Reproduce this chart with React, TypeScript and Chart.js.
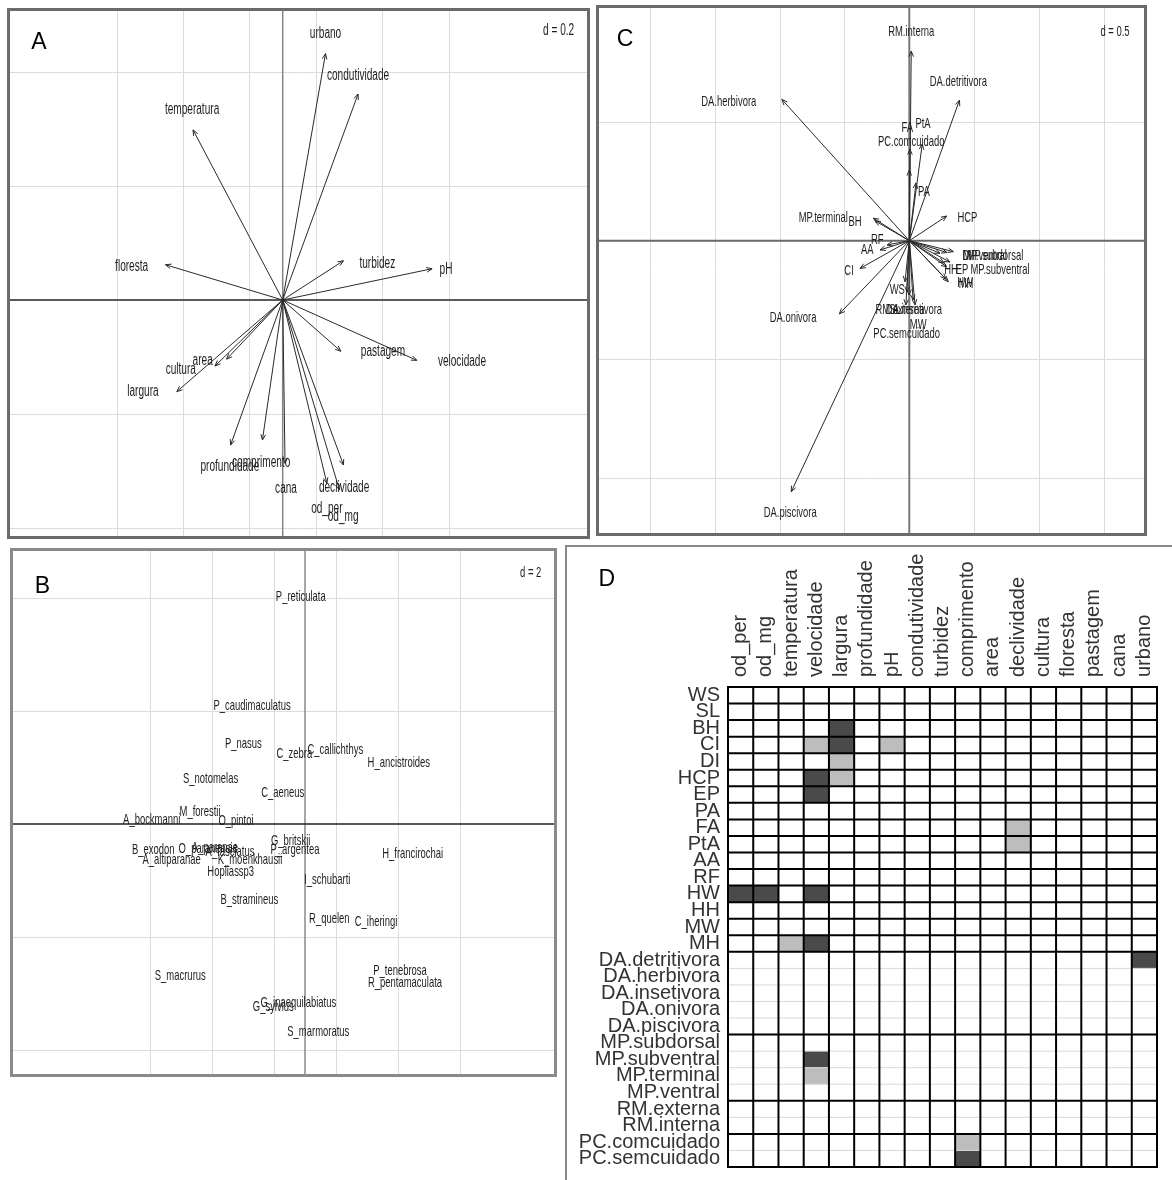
import React, { useEffect, useRef } from "react";
import { Chart, registerables } from "chart.js";

Chart.register(...registerables);

const FONT = '"Liberation Sans", Arial, sans-serif';

// ---------------- Panel A (environmental variables, d = 0.2) ----------------
const A_names = ["urbano", "condutividade", "temperatura", "floresta", "turbidez", "pH", "velocidade", "pastagem", "declividade", "od_mg", "od_per", "cana", "comprimento", "profundidade", "largura", "cultura", "area"];
const A_tipX = [0.129, 0.227, -0.270, -0.353, 0.183, 0.450, 0.404, 0.175, 0.183, 0.171, 0.133, 0.007, -0.061, -0.157, -0.319, -0.204, -0.169];
const A_tipY = [0.433, 0.362, 0.299, 0.062, 0.069, 0.055, -0.106, -0.090, -0.290, -0.334, -0.322, -0.287, -0.246, -0.255, -0.161, -0.116, -0.104];
const A_labX = [0.129, 0.227, -0.273, -0.455, 0.285, 0.492, 0.540, 0.302, 0.185, 0.182, 0.133, 0.010, -0.065, -0.159, -0.421, -0.307, -0.241];
const A_labY = [0.468, 0.395, 0.334, 0.058, 0.064, 0.054, -0.109, -0.091, -0.330, -0.381, -0.366, -0.331, -0.286, -0.293, -0.161, -0.122, -0.106];
const A_gridX = [-0.5, -0.3, -0.1, 0.1, 0.3, 0.5];
const A_gridY = [-0.4, -0.2, 0.2, 0.4];

// ---------------- Panel B (species scores, d = 2) ----------------
const B_names = ["P_reticulata", "P_caudimaculatus", "P_nasus", "C_zebra", "C_callichthys", "H_ancistroides", "S_notomelas", "C_aeneus", "M_forestii", "O_pintoi", "A_bockmanni", "B_exodon", "O_paranensis", "A_paranae", "A_fasciatus", "A_altiparanae", "K_moenkhausii", "Hopliassp3", "G_britskii", "P_argentea", "H_francirochai", "I_schubarti", "B_stramineus", "R_quelen", "C_iheringi", "P_tenebrosa", "R_pentamaculata", "S_macrurus", "G_inaequilabiatus", "G_sylvius", "S_marmoratus"];
const B_x = [-0.136, -1.715, -1.993, -0.346, 0.981, 3.036, -3.055, -0.722, -3.398, -2.233, -4.961, -4.909, -3.139, -2.913, -2.427, -4.314, -1.780, -2.404, -0.463, -0.324, 3.485, 0.722, -1.803, 0.786, 2.298, 3.074, 3.236, -4.036, -0.217, -1.026, 0.430];
const B_y = [4.027, 2.097, 1.411, 1.241, 1.320, 1.085, 0.807, 0.554, 0.218, 0.058, 0.071, -0.460, -0.448, -0.425, -0.490, -0.637, -0.637, -0.844, -0.296, -0.460, -0.531, -0.991, -1.345, -1.687, -1.729, -2.596, -2.820, -2.694, -3.173, -3.234, -3.676];
const B_gridX = [-5, -3, -1, 1, 3, 5];
const B_gridY = [-4, -2, 2, 4];

// ---------------- Panel C (traits, d = 0.5) ----------------
const C_names = ["RM.interna", "DA.detritivora", "DA.herbivora", "FA", "PtA", "PC.comcuidado", "PA", "HCP", "MP.terminal", "BH", "RF", "AA", "CI", "DA.onivora", "DA.piscivora", "WS", "SL", "RM.externa", "DA.insetivora", "MW", "PC.semcuidado", "MP.subdorsal", "MP.ventral", "DI", "HH", "EP", "MP.subventral", "HW", "MH"];
const C_tipX = [0.015, 0.387, -0.983, 0.005, 0.100, 0.000, 0.052, 0.289, -0.278, -0.265, -0.172, -0.226, -0.380, -0.540, -0.911, -0.033, -0.018, -0.002, 0.044, 0.029, -0.026, 0.340, 0.291, 0.237, 0.268, 0.289, 0.314, 0.301, 0.283];
const C_tipY = [0.800, 0.593, 0.596, 0.387, 0.408, 0.298, 0.244, 0.104, 0.095, 0.084, -0.018, -0.039, -0.117, -0.309, -1.059, -0.173, -0.217, -0.229, -0.271, -0.250, -0.271, -0.046, -0.050, -0.053, -0.094, -0.110, -0.090, -0.173, -0.162];
const C_labX = [0.015, 0.378, -1.393, -0.015, 0.106, 0.015, 0.113, 0.448, -0.664, -0.419, -0.247, -0.324, -0.465, -0.897, -0.919, -0.093, -0.110, -0.072, 0.036, 0.069, -0.020, 0.661, 0.584, 0.445, 0.322, 0.407, 0.700, 0.430, 0.438];
const C_labY = [0.881, 0.670, 0.586, 0.475, 0.492, 0.419, 0.207, 0.095, 0.095, 0.080, 0.003, -0.039, -0.127, -0.325, -1.148, -0.208, -0.292, -0.292, -0.292, -0.356, -0.391, -0.065, -0.065, -0.065, -0.124, -0.124, -0.124, -0.180, -0.183];
const C_gridX = [-2, -1.5, -1, -0.5, 0.5, 1, 1.5];
const C_gridY = [-1, -0.5, 0.5];

// ---------------- Panel D (fourth-corner) ----------------
const D_cols = ["od_per", "od_mg", "temperatura", "velocidade", "largura", "profundidade", "pH", "condutividade", "turbidez", "comprimento", "area", "declividade", "cultura", "floresta", "pastagem", "cana", "urbano"];
const D_rows = ["WS", "SL", "BH", "CI", "DI", "HCP", "EP", "PA", "FA", "PtA", "AA", "RF", "HW", "HH", "MW", "MH", "DA.detritivora", "DA.herbivora", "DA.insetivora", "DA.onivora", "DA.piscivora", "MP.subdorsal", "MP.subventral", "MP.terminal", "MP.ventral", "RM.externa", "RM.interna", "PC.comcuidado", "PC.semcuidado"];
const D_cellRow = ["BH", "CI", "CI", "CI", "DI", "HCP", "HCP", "EP", "FA", "PtA", "HW", "HW", "HW", "MH", "MH", "DA.detritivora", "MP.subventral", "MP.terminal", "PC.comcuidado", "PC.semcuidado"];
const D_cellCol = ["largura", "velocidade", "largura", "pH", "largura", "velocidade", "largura", "velocidade", "declividade", "declividade", "od_per", "od_mg", "velocidade", "temperatura", "velocidade", "urbano", "velocidade", "velocidade", "comprimento", "comprimento"];
const D_cellLevel = [2, 1, 2, 1, 1, 2, 1, 2, 1, 1, 2, 2, 2, 1, 2, 2, 2, 1, 1, 2];

type Biplot = {
  key: string;
  names: string[];
  tipX: number[] | null;
  tipY: number[] | null;
  labX: number[];
  labY: number[];
  gridX: number[];
  gridY: number[];
  xMin: number; xMax: number; yMin: number; yMax: number;
  letter: string; letterPos: [number, number];
  dText: string; dPos: [number, number];
  fontSize: number; squeeze: number;
  frameColor: string;
  hAxis: [string, number];
  vAxis: [string, number];
};

const PANEL_A: Biplot = {
  key: "A", names: A_names, tipX: A_tipX, tipY: A_tipY, labX: A_labX, labY: A_labY,
  gridX: A_gridX, gridY: A_gridY,
  xMin: -0.8304, xMax: 0.9256, yMin: -0.42, yMax: 0.5132,
  letter: "A", letterPos: [32, 35], dText: "d = 0.2", dPos: [551.6, 22.8],
  fontSize: 16, squeeze: 0.63, frameColor: "#6b6b6b",
  hAxis: ["#5a5a5a", 2], vAxis: ["#858585", 1.5],
};
const PANEL_C: Biplot = {
  key: "C", names: C_names, tipX: C_tipX, tipY: C_tipY, labX: C_labX, labY: C_labY,
  gridX: C_gridX, gridY: C_gridY,
  xMin: -2.4174, xMax: 1.8341, yMin: -1.246, yMax: 0.9945,
  letter: "C", letterPos: [29, 35], dText: "d = 0.5", dPos: [519, 26.7],
  fontSize: 15, squeeze: 0.63, frameColor: "#6b6b6b",
  hAxis: ["#6a6a6a", 2], vAxis: ["#7a7a7a", 2],
};
const PANEL_B: Biplot = {
  key: "B", names: B_names, tipX: null, tipY: null, labX: B_x, labY: B_y,
  gridX: B_gridX, gridY: B_gridY,
  xMin: -9.5468, xMax: 8.1552, yMin: -4.4779, yMax: 4.885,
  letter: "B", letterPos: [32.4, 38.3], dText: "d = 2", dPos: [520.7, 25.3],
  fontSize: 15, squeeze: 0.63, frameColor: "#8a8a8a",
  hAxis: ["#222222", 1.5], vAxis: ["#8a8a8a", 1.5],
};

function squeezedText(ctx: CanvasRenderingContext2D, s: string, x: number, y: number, size: number, sq: number) {
  ctx.save();
  ctx.translate(x, y);
  ctx.scale(sq, 1);
  ctx.font = `${size}px ${FONT}`;
  ctx.textAlign = "center";
  ctx.textBaseline = "middle";
  ctx.fillText(s, 0, 0);
  ctx.restore();
}

function drawArrow(ctx: CanvasRenderingContext2D, x0: number, y0: number, x1: number, y1: number) {
  const head = 6;
  const a = Math.PI / 8;
  const ang = Math.atan2(y1 - y0, x1 - x0);
  ctx.beginPath();
  ctx.moveTo(x0, y0);
  ctx.lineTo(x1, y1);
  ctx.stroke();
  ctx.beginPath();
  ctx.moveTo(x1 - head * Math.cos(ang - a), y1 - head * Math.sin(ang - a));
  ctx.lineTo(x1, y1);
  ctx.lineTo(x1 - head * Math.cos(ang + a), y1 - head * Math.sin(ang + a));
  ctx.stroke();
}

function BiplotPanel({ o, left, top, width, height }: { o: Biplot; left: number; top: number; width: number; height: number }) {
  const ref = useRef<HTMLCanvasElement>(null);
  useEffect(() => {
    const canvas = ref.current;
    if (!canvas) return;
    const tips = o.tipX ? o.tipX.map((x, i) => ({ x, y: (o.tipY as number[])[i] })) : [];
    const labs = o.labX.map((x, i) => ({ x, y: o.labY[i] }));
    const plugin = {
      id: "biplot" + o.key,
      beforeDraw(chart: any) {
        const c = chart.ctx;
        c.save();
        c.fillStyle = "#ffffff";
        c.fillRect(0, 0, chart.width, chart.height);
        c.restore();
      },
      afterDatasetsDraw(chart: any) {
        const c: CanvasRenderingContext2D = chart.ctx;
        const { left: L, right: R, top: T, bottom: B } = chart.chartArea;
        const xs = chart.scales.x;
        const ys = chart.scales.y;
        c.save();
        // grid
        c.strokeStyle = "#dcdcdc";
        c.lineWidth = 1;
        o.gridX.forEach((g) => {
          const p = Math.round(xs.getPixelForValue(g)) + 0.5;
          c.beginPath(); c.moveTo(p, T); c.lineTo(p, B); c.stroke();
        });
        o.gridY.forEach((g) => {
          const p = Math.round(ys.getPixelForValue(g)) + 0.5;
          c.beginPath(); c.moveTo(L, p); c.lineTo(R, p); c.stroke();
        });
        // axes through the origin
        const x0 = xs.getPixelForValue(0);
        const y0 = ys.getPixelForValue(0);
        c.strokeStyle = o.vAxis[0]; c.lineWidth = o.vAxis[1];
        c.beginPath(); c.moveTo(x0, T); c.lineTo(x0, B); c.stroke();
        c.strokeStyle = o.hAxis[0]; c.lineWidth = o.hAxis[1];
        c.beginPath(); c.moveTo(L, y0); c.lineTo(R, y0); c.stroke();
        // arrows
        const tipData = chart.data.datasets[0].data as { x: number; y: number }[];
        c.strokeStyle = "#2a2a2a";
        c.lineWidth = 1;
        tipData.forEach((p) => {
          drawArrow(c, x0, y0, xs.getPixelForValue(p.x), ys.getPixelForValue(p.y));
        });
        // labels
        const labData = chart.data.datasets[1].data as { x: number; y: number }[];
        c.fillStyle = "#1e1e1e";
        labData.forEach((p, i) => {
          squeezedText(c, o.names[i], xs.getPixelForValue(p.x), ys.getPixelForValue(p.y), o.fontSize, o.squeeze);
        });
        // d = value
        squeezedText(c, o.dText, L + o.dPos[0], T + o.dPos[1], o.fontSize, o.squeeze);
        // frame
        c.strokeStyle = o.frameColor;
        c.lineWidth = 3;
        c.strokeRect(L + 1.5, T + 1.5, R - L - 3, B - T - 3);
        // panel letter
        c.fillStyle = "#000000";
        c.font = `23px ${FONT}`;
        c.textAlign = "center";
        c.textBaseline = "middle";
        c.fillText(o.letter, L + o.letterPos[0], T + o.letterPos[1]);
        c.restore();
      },
    };
    const chart = new Chart(canvas, {
      type: "scatter",
      data: {
        datasets: [
          { label: "arrows", data: tips, pointRadius: 0, showLine: false },
          { label: "labels", data: labs, pointRadius: 0, showLine: false },
        ],
      },
      options: {
        animation: false,
        responsive: false,
        maintainAspectRatio: false,
        events: [],
        layout: { padding: 0 },
        plugins: { legend: { display: false }, tooltip: { enabled: false } },
        scales: {
          x: { type: "linear", display: false, min: o.xMin, max: o.xMax },
          y: { type: "linear", display: false, min: o.yMin, max: o.yMax },
        },
      },
      plugins: [plugin],
    } as any);
    return () => chart.destroy();
  }, [o]);
  return (
    <canvas
      ref={ref}
      width={width}
      height={height}
      style={{ position: "absolute", left, top, width, height }}
    />
  );
}

function groupOf(name: string) {
  const i = name.indexOf(".");
  return i >= 0 ? name.slice(0, i) : name;
}

function HeatPanel({ left, top, width, height }: { left: number; top: number; width: number; height: number }) {
  const ref = useRef<HTMLCanvasElement>(null);
  useEffect(() => {
    const canvas = ref.current;
    if (!canvas) return;
    const cells = D_cellCol.map((c, i) => ({ x: c, y: D_cellRow[i], level: D_cellLevel[i] }));
    const plugin = {
      id: "fourthcorner",
      beforeDraw(chart: any) {
        const c = chart.ctx;
        c.save();
        c.fillStyle = "#ffffff";
        c.fillRect(0, 0, chart.width, chart.height);
        c.restore();
      },
      beforeDatasetsDraw(chart: any) {
        const c: CanvasRenderingContext2D = chart.ctx;
        const xs = chart.scales.x;
        const ys = chart.scales.y;
        const cw = Math.abs(xs.getPixelForValue(1) - xs.getPixelForValue(0));
        const rh = Math.abs(ys.getPixelForValue(1) - ys.getPixelForValue(0));
        const colEdge = (i: number) => xs.getPixelForValue(i) - cw / 2;
        const rowTop = (i: number) => ys.getPixelForValue(i) - rh / 2;
        const gl = colEdge(0);
        const gr = colEdge(0) + D_cols.length * cw;
        const rowTops = D_rows.map((_, i) => rowTop(i));
        const gt = Math.min(...rowTops);
        const gb = Math.max(...rowTops) + rh;
        c.save();
        // significant cells
        const data = chart.data.datasets[0].data as { x: string; y: string; level: number }[];
        data.forEach((d) => {
          const ci = D_cols.indexOf(d.x);
          const ri = D_rows.indexOf(d.y);
          c.fillStyle = d.level === 2 ? "#4a4a4a" : "#bdbdbd";
          c.fillRect(colEdge(ci), rowTop(ri), cw, rh);
        });
        // horizontal lines
        for (let i = 0; i <= D_rows.length; i++) {
          let yb: number;
          if (i < D_rows.length) yb = rowTop(i);
          else yb = rowTop(D_rows.length - 1) + rh;
          const prev = i > 0 ? D_rows[i - 1] : null;
          const cur = i < D_rows.length ? D_rows[i] : null;
          const sameGroup = prev && cur && prev.includes(".") && cur.includes(".") && groupOf(prev) === groupOf(cur);
          if (sameGroup) {
            c.strokeStyle = "#d8d8d8";
            c.lineWidth = 1;
          } else {
            c.strokeStyle = "#000000";
            c.lineWidth = 2;
          }
          c.beginPath(); c.moveTo(gl - 1, yb); c.lineTo(gr + 1, yb); c.stroke();
        }
        // vertical lines
        c.strokeStyle = "#000000";
        c.lineWidth = 2;
        for (let j = 0; j <= D_cols.length; j++) {
          const xb = gl + j * cw;
          c.beginPath(); c.moveTo(xb, gt - 1); c.lineTo(xb, gb + 1); c.stroke();
        }
        c.restore();
      },
      afterDraw(chart: any) {
        const c: CanvasRenderingContext2D = chart.ctx;
        c.save();
        c.fillStyle = "#8a8a8a";
        c.fillRect(0, 0, 2, chart.height);
        c.fillRect(0, 0, chart.width, 2);
        c.fillStyle = "#000000";
        c.font = `23px ${FONT}`;
        c.textAlign = "center";
        c.textBaseline = "middle";
        c.fillText("D", 41.7, 34.3);
        c.restore();
      },
    };
    const chart = new Chart(canvas, {
      type: "scatter",
      data: {
        labels: D_cols,
        datasets: [{ label: "cells", data: cells, pointRadius: 0, showLine: false }],
      },
      options: {
        animation: false,
        responsive: false,
        maintainAspectRatio: false,
        events: [],
        layout: { padding: { left: 0, top: 0, right: 15, bottom: 13 } },
        plugins: { legend: { display: false }, tooltip: { enabled: false } },
        scales: {
          x: {
            type: "category",
            labels: D_cols,
            position: "top",
            offset: true,
            grid: { display: false, drawTicks: false },
            border: { display: false },
            ticks: {
              autoSkip: false,
              minRotation: 90,
              maxRotation: 90,
              padding: 10,
              labelOffset: 24,
              color: "#333333",
              font: { family: FONT, size: 20 },
            },
            afterFit: (s: any) => {
              s.height = 142;
              s.paddingLeft = 0;
              s.paddingRight = 0;
            },
          },
          y: {
            type: "category",
            labels: D_rows,
            position: "left",
            offset: true,
            grid: { display: false, drawTicks: false },
            border: { display: false },
            ticks: {
              autoSkip: false,
              padding: 8,
              color: "#333333",
              font: { family: FONT, size: 20 },
            },
            afterFit: (s: any) => {
              s.width = 163;
              s.paddingTop = 0;
              s.paddingBottom = 0;
            },
          },
        },
      },
      plugins: [plugin],
    } as any);
    return () => chart.destroy();
  }, []);
  return (
    <canvas
      ref={ref}
      width={width}
      height={height}
      style={{ position: "absolute", left, top, width, height }}
    />
  );
}

export default function App() {
  return (
    <div style={{ position: "absolute", left: 0, top: 0, width: 1172, height: 1180, background: "#ffffff", overflow: "hidden" }}>
      <BiplotPanel o={PANEL_A} left={7} top={8} width={583} height={531} />
      <BiplotPanel o={PANEL_C} left={596} top={5} width={551} height={531} />
      <BiplotPanel o={PANEL_B} left={10} top={548} width={547} height={529} />
      <HeatPanel left={565} top={545} width={607} height={635} />
    </div>
  );
}
